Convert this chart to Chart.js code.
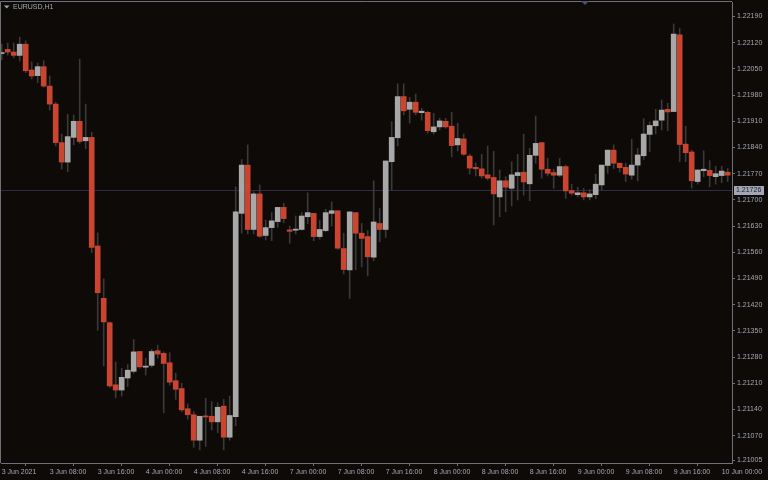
<!DOCTYPE html>
<html>
<head>
<meta charset="utf-8">
<script src="https://cdn.jsdelivr.net/npm/chart.js@4.4.0/dist/chart.umd.min.js"></script>
<style>
  html, body { margin: 0; padding: 0; background: #0d0a08; }
  #wrap { width: 768px; height: 480px; }
</style>
</head>
<body>
<div id="wrap"><canvas id="chart" width="768" height="480"></canvas></div>
<script>
// EURUSD H1, one entry per bar (3 Jun 2021 00:00 onwards)
const opens = [
  1.22091, 1.22102, 1.22095, 1.22086, 1.22116, 1.22047, 1.22032, 1.22056, 1.22004, 1.21956,
  1.21853, 1.21801, 1.21867, 1.21910, 1.21858, 1.21867, 1.21577, 1.21437, 1.21372, 1.21206,
  1.21192, 1.21224, 1.21242, 1.21295, 1.21253, 1.21258, 1.21297, 1.21290, 1.21265, 1.21217,
  1.21196, 1.21142, 1.21126, 1.21058, 1.21123, 1.21122, 1.21107, 1.21149, 1.21066, 1.21121,
  1.21664, 1.21793, 1.21621, 1.21716, 1.21605, 1.21626, 1.21642, 1.21680, 1.21620, 1.21619,
  1.21621, 1.21655, 1.21664, 1.21602, 1.21618, 1.21664, 1.21671, 1.21570, 1.21513, 1.21666,
  1.21611, 1.21602, 1.21547, 1.21637, 1.21621, 1.21802, 1.21866, 1.21976, 1.21942, 1.21961,
  1.21933, 1.21934, 1.21882, 1.21895, 1.21910, 1.21897, 1.21847, 1.21863, 1.21817, 1.21787,
  1.21783, 1.21767, 1.21760, 1.21708, 1.21751, 1.21731, 1.21765, 1.21774, 1.21743, 1.21819,
  1.21853, 1.21782, 1.21773, 1.21766, 1.21789, 1.21725, 1.21714, 1.21719, 1.21708, 1.21714,
  1.21740, 1.21792, 1.21833, 1.21798, 1.21787, 1.21766, 1.21793, 1.21818, 1.21875, 1.21898,
  1.21913, 1.21942, 1.21936, 1.22141, 1.21849, 1.21828, 1.21749, 1.21778, 1.21779, 1.21762,
  1.21765, 1.21774
];
const highs = [
  1.22116, 1.22119, 1.22119, 1.22135, 1.22125, 1.22069, 1.22066, 1.22072, 1.22031, 1.21961,
  1.21876, 1.21929, 1.21927, 1.22076, 1.21956, 1.21881, 1.21612, 1.21489, 1.21374, 1.21267,
  1.21250, 1.21260, 1.21327, 1.21295, 1.21277, 1.21301, 1.21312, 1.21294, 1.21292, 1.21237,
  1.21210, 1.21155, 1.21134, 1.21122, 1.21170, 1.21161, 1.21158, 1.21167, 1.21176, 1.21735,
  1.21808, 1.21847, 1.21722, 1.21740, 1.21646, 1.21666, 1.21680, 1.21691, 1.21630, 1.21657,
  1.21666, 1.21719, 1.21664, 1.21646, 1.21675, 1.21695, 1.21671, 1.21611, 1.21668, 1.21666,
  1.21637, 1.21618, 1.21751, 1.21677, 1.21804, 1.21909, 1.22010, 1.22010, 1.21974, 1.21983,
  1.21945, 1.21937, 1.21931, 1.21918, 1.21918, 1.21934, 1.21905, 1.21876, 1.21822, 1.21799,
  1.21822, 1.21844, 1.21830, 1.21780, 1.21762, 1.21802, 1.21822, 1.21876, 1.21838, 1.21924,
  1.21853, 1.21811, 1.21782, 1.21811, 1.21793, 1.21742, 1.21734, 1.21731, 1.21728, 1.21769,
  1.21793, 1.21833, 1.21847, 1.21799, 1.21798, 1.21862, 1.21838, 1.21917, 1.21908, 1.21942,
  1.21967, 1.21958, 1.22170, 1.22158, 1.21897, 1.21833, 1.21780, 1.21831, 1.21805, 1.21790,
  1.21790, 1.21784
];
const lows = [
  1.22074, 1.22087, 1.22079, 1.22071, 1.22040, 1.22023, 1.22013, 1.22001, 1.21940, 1.21844,
  1.21782, 1.21775, 1.21847, 1.21851, 1.21837, 1.21559, 1.21352, 1.21256, 1.21199, 1.21171,
  1.21176, 1.21201, 1.21237, 1.21250, 1.21232, 1.21253, 1.21277, 1.21131, 1.21205, 1.21167,
  1.21134, 1.21114, 1.21039, 1.21032, 1.21042, 1.21085, 1.21078, 1.21032, 1.21058, 1.21096,
  1.21611, 1.21609, 1.21609, 1.21600, 1.21593, 1.21591, 1.21627, 1.21639, 1.21584, 1.21609,
  1.21619, 1.21636, 1.21591, 1.21595, 1.21615, 1.21630, 1.21568, 1.21502, 1.21437, 1.21513,
  1.21521, 1.21497, 1.21537, 1.21588, 1.21600, 1.21726, 1.21844, 1.21927, 1.21905, 1.21927,
  1.21913, 1.21878, 1.21876, 1.21887, 1.21891, 1.21815, 1.21831, 1.21819, 1.21769, 1.21764,
  1.21758, 1.21753, 1.21633, 1.21655, 1.21668, 1.21684, 1.21700, 1.21713, 1.21698, 1.21798,
  1.21758, 1.21764, 1.21731, 1.21762, 1.21704, 1.21713, 1.21708, 1.21700, 1.21700, 1.21703,
  1.21726, 1.21771, 1.21784, 1.21775, 1.21749, 1.21755, 1.21751, 1.21808, 1.21829, 1.21876,
  1.21887, 1.21885, 1.21936, 1.21802, 1.21802, 1.21731, 1.21742, 1.21762, 1.21735, 1.21742,
  1.21746, 1.21749
];
const closes = [
  1.22092, 1.22095, 1.22086, 1.22116, 1.22045, 1.22031, 1.22056, 1.22004, 1.21956, 1.21853,
  1.21801, 1.21869, 1.21910, 1.21856, 1.21867, 1.21573, 1.21452, 1.21374, 1.21203, 1.21192,
  1.21226, 1.21245, 1.21294, 1.21254, 1.21256, 1.21295, 1.21288, 1.21263, 1.21213, 1.21194,
  1.21139, 1.21126, 1.21058, 1.21122, 1.21120, 1.21107, 1.21146, 1.21066, 1.21124, 1.21668,
  1.21793, 1.21621, 1.21716, 1.21603, 1.21626, 1.21644, 1.21680, 1.21650, 1.21616, 1.21622,
  1.21657, 1.21666, 1.21602, 1.21621, 1.21666, 1.21671, 1.21571, 1.21514, 1.21668, 1.21611,
  1.21597, 1.21548, 1.21641, 1.21621, 1.21804, 1.21867, 1.21976, 1.21938, 1.21961, 1.21934,
  1.21937, 1.21885, 1.21895, 1.21911, 1.21895, 1.21845, 1.21864, 1.21822, 1.21785, 1.21783,
  1.21764, 1.21758, 1.21716, 1.21751, 1.21734, 1.21767, 1.21773, 1.21748, 1.21819, 1.21851,
  1.21782, 1.21771, 1.21766, 1.21789, 1.21724, 1.21718, 1.21719, 1.21708, 1.21716, 1.21742,
  1.21793, 1.21833, 1.21798, 1.21786, 1.21769, 1.21793, 1.21820, 1.21876, 1.21899, 1.21911,
  1.21940, 1.21935, 1.22143, 1.21848, 1.21826, 1.21751, 1.21780, 1.21782, 1.21765, 1.21770,
  1.21777, 1.21766
];

// axis labels
const priceTicks = [1.22190, 1.22120, 1.22050, 1.21980, 1.21910, 1.21840, 1.21770, 1.21700,
  1.21630, 1.21560, 1.21490, 1.21420, 1.21350, 1.21280, 1.21210, 1.21140, 1.21070, 1.21005];
const timeTickBars = [0, 8, 16, 24, 32, 40, 48, 56, 64, 72, 80, 88, 96, 104, 112, 120];
const timeTickLabels = ['3 Jun 2021', '3 Jun 08:00', '3 Jun 16:00', '4 Jun 00:00', '4 Jun 08:00',
  '4 Jun 16:00', '7 Jun 00:00', '7 Jun 08:00', '7 Jun 16:00', '8 Jun 00:00', '8 Jun 08:00',
  '8 Jun 16:00', '9 Jun 00:00', '9 Jun 08:00', '9 Jun 16:00', '10 Jun 00:00'];
const symbolTitle = 'EURUSD,H1';
const bidPrice = 1.21726;

const BG = '#0d0a08';
const AXIS = '#6e717a';
const TEXT = '#a3a8b4';
const BULL = '#a8a8a8';
const BEAR = '#c9452f';
const WICK = '#3a3a3a';
const FONT = { family: 'Liberation Sans', size: 7 };

const bodies = opens.map((o, i) => ({ x: i, y: [o, closes[i]] }));
const wicks = lows.map((l, i) => ({ x: i, y: [l, highs[i]] }));
const bodyColors = opens.map((o, i) => closes[i] >= o ? BULL : BEAR);

// no automatic label padding, the plot area is placed by hand
function noPad(s) {
  s.paddingTop = 0;
  s.paddingBottom = 0;
  s.paddingLeft = 0;
  s.paddingRight = 0;
}

const mtDecor = {
  id: 'mtDecor',
  beforeDraw(chart) {
    const ctx = chart.ctx;
    ctx.save();
    ctx.fillStyle = BG;
    ctx.fillRect(0, 0, chart.width, chart.height);
    ctx.restore();
  },
  beforeDatasetsDraw(chart) {
    const ctx = chart.ctx;
    const a = chart.chartArea;
    const y = Math.round(chart.scales.y.getPixelForValue(bidPrice)) + 0.5;
    ctx.save();
    ctx.strokeStyle = '#2c2b48';
    ctx.lineWidth = 1;
    ctx.beginPath();
    ctx.moveTo(a.left, y);
    ctx.lineTo(a.right, y);
    ctx.stroke();
    ctx.restore();
  },
  afterDraw(chart) {
    const ctx = chart.ctx;
    const a = chart.chartArea;
    ctx.save();
    // frame top / left
    ctx.strokeStyle = AXIS;
    ctx.lineWidth = 1;
    ctx.beginPath();
    ctx.moveTo(a.left - 0.5, a.bottom);
    ctx.lineTo(a.left - 0.5, a.top - 0.5);
    ctx.lineTo(a.right, a.top - 0.5);
    ctx.stroke();

    // symbol title
    ctx.fillStyle = TEXT;
    ctx.beginPath();
    ctx.moveTo(4, 5.5);
    ctx.lineTo(9.5, 5.5);
    ctx.lineTo(6.75, 8.5);
    ctx.closePath();
    ctx.fill();
    ctx.font = '7px "Liberation Sans"';
    ctx.textBaseline = 'middle';
    ctx.textAlign = 'left';
    ctx.fillText(symbolTitle, 13, 7.5);

    // small shift marker at the top
    ctx.fillStyle = '#4a5070';
    ctx.beginPath();
    ctx.moveTo(581, 1);
    ctx.lineTo(589, 1);
    ctx.lineTo(585, 5);
    ctx.closePath();
    ctx.fill();

    // bid price label
    const y = Math.round(chart.scales.y.getPixelForValue(bidPrice));
    ctx.fillStyle = '#a2a6b4';
    ctx.fillRect(a.right + 2, y - 4, 30, 9);
    ctx.fillStyle = '#22242e';
    ctx.fillText(bidPrice.toFixed(5), a.right + 4, y + 0.5);
    ctx.restore();
  }
};

new Chart(document.getElementById('chart'), {
  type: 'bar',
  data: {
    datasets: [
      { data: bodies, backgroundColor: bodyColors, barThickness: 5, minBarLength: 1, grouped: false, order: 0 },
      { data: wicks, backgroundColor: WICK, barThickness: 1, grouped: false, order: 1 }
    ]
  },
  options: {
    responsive: false,
    animation: false,
    devicePixelRatio: 1,
    layout: { padding: { top: 2, left: 1, right: 0, bottom: 0 } },
    plugins: { legend: { display: false }, tooltip: { enabled: false } },
    scales: {
      x: {
        type: 'linear',
        min: -0.117,
        max: 121.72,
        offset: false,
        grid: { drawOnChartArea: false, drawTicks: true, tickLength: 3, color: AXIS },
        border: { display: true, color: AXIS },
        ticks: {
          color: TEXT, font: FONT, padding: 2, align: 'start',
          maxRotation: 0, autoSkip: false,
          callback: v => timeTickLabels[timeTickBars.indexOf(v)]
        },
        afterBuildTicks: s => { s.ticks = timeTickBars.map(v => ({ value: v })); },
        afterFit: s => { s.height = 17; noPad(s); }
      },
      y: {
        position: 'right',
        min: 1.209971,
        max: 1.222287,
        grid: { drawOnChartArea: false, drawTicks: true, tickLength: 3, color: AXIS },
        border: { display: true, color: AXIS },
        ticks: {
          color: TEXT, font: FONT, padding: 2, autoSkip: false,
          callback: v => v.toFixed(5)
        },
        afterBuildTicks: s => { s.ticks = priceTicks.map(v => ({ value: v })); },
        afterFit: s => { s.width = 36; noPad(s); }
      }
    }
  },
  plugins: [mtDecor]
});
</script>
</body>
</html>
